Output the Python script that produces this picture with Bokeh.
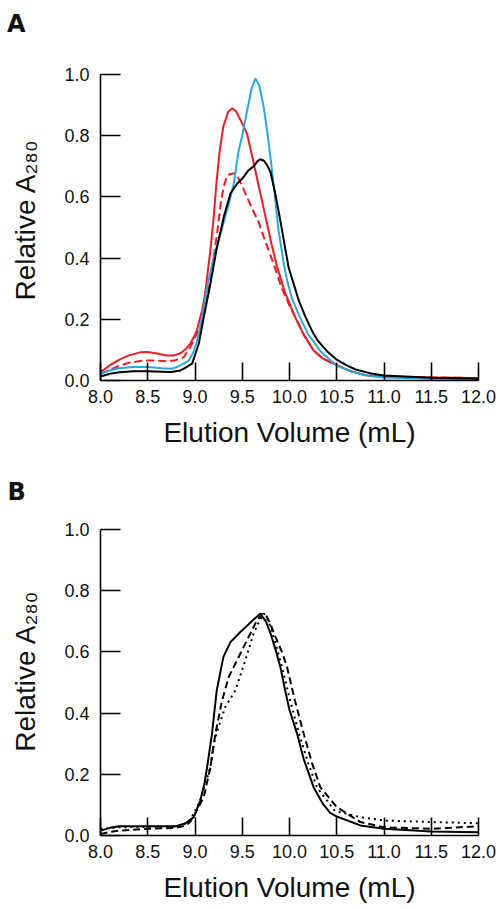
from bokeh.plotting import figure
from bokeh.models import Range1d, FixedTicker, NumeralTickFormatter, Div
from bokeh.layouts import column
from bokeh.embed import file_html
from bokeh.resources import INLINE

# ---------------- data ----------------
x_tick_values = [8.0, 8.5, 9.0, 9.5, 10.0, 10.5, 11.0, 11.5, 12.0]
y_tick_values = [0.0, 0.2, 0.4, 0.6, 0.8, 1.0]
x_title = "Elution Volume (mL)"
y_title = "Relative A\u2082\u2088\u2080"

# Panel A
a_red_vol = [8.0, 8.1, 8.2, 8.3, 8.42, 8.5, 8.6, 8.7, 8.78, 8.85, 8.9, 8.95, 9.0, 9.02, 9.05,
             9.075, 9.1, 9.12, 9.14, 9.163, 9.18, 9.198, 9.226, 9.262, 9.3, 9.35, 9.39, 9.43,
             9.5, 9.55, 9.6, 9.65, 9.7, 9.755, 9.81, 9.87, 9.95, 10.06, 10.15, 10.255, 10.35,
             10.5, 10.65, 10.82, 11.0, 11.5, 12.0]
a_red_val = [0.027, 0.05, 0.068, 0.082, 0.092, 0.093, 0.088, 0.082, 0.082, 0.09, 0.102, 0.12,
             0.15, 0.164, 0.2, 0.229, 0.27, 0.316, 0.37, 0.425, 0.48, 0.534, 0.643, 0.752,
             0.83, 0.877, 0.889, 0.882, 0.84, 0.807, 0.74, 0.67, 0.6, 0.523, 0.445, 0.37,
             0.29, 0.207, 0.15, 0.098, 0.072, 0.05, 0.03, 0.016, 0.012, 0.01, 0.008]

a_red_dash_vol = [8.0, 8.1, 8.2, 8.3, 8.45, 8.6, 8.7, 8.78, 8.88, 8.95, 9.0, 9.057, 9.09, 9.12,
                  9.15, 9.18, 9.234, 9.276, 9.31, 9.34, 9.38, 9.427, 9.47, 9.5, 9.55, 9.6,
                  9.67, 9.75, 9.85, 9.92, 10.0, 10.06, 10.15, 10.255, 10.35, 10.5, 10.65,
                  10.82, 11.0, 11.5, 12.0]
a_red_dash_val = [0.022, 0.035, 0.048, 0.058, 0.065, 0.065, 0.063, 0.065, 0.076, 0.109, 0.14,
                  0.174, 0.21, 0.262, 0.31, 0.37, 0.48, 0.589, 0.64, 0.67, 0.675, 0.678, 0.655,
                  0.635, 0.6, 0.565, 0.52, 0.45, 0.365, 0.3, 0.245, 0.207, 0.15, 0.098, 0.072,
                  0.05, 0.03, 0.016, 0.012, 0.01, 0.008]

a_blue_vol = [8.0, 8.1, 8.2, 8.35, 8.5, 8.65, 8.75, 8.81, 8.88, 8.934, 8.98, 9.015, 9.045,
              9.075, 9.135, 9.216, 9.27, 9.32, 9.36, 9.41, 9.462, 9.5, 9.55, 9.6, 9.639, 9.68,
              9.727, 9.77, 9.81, 9.85, 9.88, 9.91, 9.94, 9.98, 10.03, 10.11, 10.2, 10.33, 10.5,
              10.7, 10.85, 11.0, 11.5, 12.0]
a_blue_val = [0.022, 0.033, 0.04, 0.044, 0.044, 0.04, 0.038, 0.044, 0.055, 0.065, 0.09, 0.12,
              0.16, 0.207, 0.316, 0.425, 0.48, 0.534, 0.58, 0.643, 0.752, 0.80, 0.88, 0.955,
              0.987, 0.965, 0.894, 0.80, 0.70, 0.59, 0.50, 0.44, 0.38, 0.32, 0.265, 0.207,
              0.15, 0.095, 0.048, 0.025, 0.015, 0.01, 0.006, 0.005]

a_black_vol = [8.0, 8.1, 8.2, 8.35, 8.5, 8.65, 8.75, 8.846, 8.9, 8.97, 9.04, 9.093, 9.163,
               9.226, 9.304, 9.375, 9.445, 9.5, 9.53, 9.56, 9.62, 9.66, 9.69, 9.73, 9.77,
               9.8, 9.85, 9.903, 9.95, 9.99, 10.05, 10.1, 10.17, 10.25, 10.3, 10.4, 10.5,
               10.6, 10.7, 10.85, 11.0, 11.5, 12.0]
a_black_val = [0.013, 0.022, 0.027, 0.03, 0.03, 0.029, 0.028, 0.033, 0.042, 0.055, 0.12,
               0.207, 0.316, 0.425, 0.534, 0.611, 0.643, 0.66, 0.672, 0.685, 0.70, 0.716,
               0.723, 0.718, 0.70, 0.68, 0.61, 0.523, 0.44, 0.37, 0.31, 0.26, 0.207, 0.155,
               0.13, 0.095, 0.068, 0.05, 0.036, 0.024, 0.016, 0.009, 0.006]

# Panel B
b_solid_vol = [8.0, 8.1, 8.2, 8.5, 8.8, 8.9, 8.987, 9.057, 9.1, 9.128, 9.18, 9.23, 9.3, 9.375,
               9.48, 9.55, 9.6, 9.69, 9.75, 9.8, 9.85, 9.903, 9.95, 10.0, 10.08, 10.15,
               10.255, 10.35, 10.43, 10.5, 10.75, 11.0, 11.5, 12.0]
b_solid_val = [0.016, 0.025, 0.03, 0.03, 0.03, 0.04, 0.06, 0.115, 0.17, 0.223, 0.333, 0.474,
               0.583, 0.632, 0.665, 0.685, 0.70, 0.725, 0.70, 0.66, 0.61, 0.551, 0.48, 0.41,
               0.333, 0.25, 0.158, 0.105, 0.074, 0.062, 0.033, 0.022, 0.013, 0.011]

b_dash_vol = [8.0, 8.1, 8.2, 8.5, 8.8, 8.9, 8.95, 9.0, 9.05, 9.093, 9.163, 9.216, 9.287, 9.357,
              9.445, 9.586, 9.65, 9.71, 9.76, 9.797, 9.85, 9.92, 9.974, 10.05, 10.15, 10.24,
              10.326, 10.5, 10.75, 11.0, 11.5, 11.8, 12.0]
b_dash_val = [0.005, 0.012, 0.016, 0.022, 0.025, 0.032, 0.045, 0.07, 0.1, 0.125, 0.223, 0.333,
              0.442, 0.518, 0.573, 0.66, 0.70, 0.725, 0.715, 0.692, 0.65, 0.6, 0.551, 0.45,
              0.333, 0.235, 0.158, 0.093, 0.044, 0.027, 0.022, 0.027, 0.03]

b_dot_vol = [8.0, 8.2, 8.5, 8.85, 8.95, 9.05, 9.1, 9.163, 9.198, 9.25, 9.32, 9.427, 9.533, 9.62,
             9.68, 9.73, 9.78, 9.85, 9.92, 10.0, 10.1, 10.2, 10.29, 10.48, 10.75, 11.0, 11.5,
             12.0]
b_dot_val = [0.022, 0.027, 0.028, 0.03, 0.05, 0.11, 0.16, 0.223, 0.30, 0.355, 0.42, 0.474,
             0.573, 0.66, 0.70, 0.725, 0.70, 0.63, 0.551, 0.45, 0.333, 0.235, 0.158, 0.08,
             0.06, 0.049, 0.044, 0.04]

RED = "#ed1c24"
BLUE = "#27aae1"
BLACK = "#000000"
TEXT = "#111111"
FONT = "Liberation Sans"


def make_panel(height, top, bottom, letter, letter_standoff, ylab_pad):
    p = figure(width=502, height=height, output_backend="svg", toolbar_location=None,
               x_range=Range1d(8.0, 12.0), y_range=Range1d(0.0, 1.0),
               min_border_left=100, min_border_right=24, min_border_top=top,
               min_border_bottom=bottom)
    p.outline_line_color = None
    p.xgrid.grid_line_color = None
    p.ygrid.grid_line_color = None
    p.background_fill_color = "white"
    p.border_fill_color = "white"

    if letter:
        p.title.text = letter
        p.title.text_font = "DejaVu Sans"
        p.title.text_font_size = "24px"
        p.title.text_font_style = "bold"
        p.title.text_color = TEXT
        p.title.align = "left"
        p.title.vertical_align = "bottom"
        p.title.offset = -93
        p.title.standoff = letter_standoff

    for ax in (p.xaxis[0], p.yaxis[0]):
        ax.axis_line_width = 1.6
        ax.axis_line_color = BLACK
        ax.major_tick_line_width = 1.6
        ax.major_tick_line_color = BLACK
        ax.minor_tick_line_color = None
        ax.major_tick_out = 0
        ax.major_label_text_font = FONT
        ax.major_label_text_font_size = "18px"
        ax.major_label_text_color = TEXT
        ax.formatter = NumeralTickFormatter(format="0.0")
        ax.axis_label_text_font = FONT
        ax.axis_label_text_font_size = "28px"
        ax.axis_label_text_font_style = "normal"
        ax.axis_label_text_color = TEXT

    p.xaxis.ticker = FixedTicker(ticks=x_tick_values)
    p.yaxis.ticker = FixedTicker(ticks=y_tick_values)
    p.xaxis.major_tick_in = 18
    p.yaxis.major_tick_in = 20
    p.xaxis.major_label_standoff = 9
    p.yaxis.major_label_standoff = 11

    p.xaxis.axis_label = x_title
    p.xaxis.axis_label_standoff = 11
    p.yaxis.axis_label = "\u00a0" * ylab_pad + y_title
    p.yaxis.axis_label_standoff = 20
    return p


head_a = Div(text='<div style="padding:12px 0 0 7px;font-family:\'DejaVu Sans\';'
                  'font-size:24px;font-weight:bold;line-height:24px;color:#111111">A</div>',
             width=502, height=40, margin=0)

pA = make_panel(410, 34, 70, None, 0, 2)
pA.line(a_red_vol, a_red_val, line_color=RED, line_width=2)
pA.line(a_red_dash_vol, a_red_dash_val, line_color=RED, line_width=2, line_dash="8 4")
pA.line(a_blue_vol, a_blue_val, line_color=BLUE, line_width=2)
pA.line(a_black_vol, a_black_val, line_color=BLACK, line_width=2)

pB = make_panel(459, 79, 74, "B", 48, 3)
pB.line(b_solid_vol, b_solid_val, line_color=BLACK, line_width=2)
pB.line(b_dash_vol, b_dash_val, line_color=BLACK, line_width=2, line_dash="7 4")
pB.line(b_dot_vol, b_dot_val, line_color=BLACK, line_width=2, line_dash="2 4")

layout = column(head_a, pA, pB, spacing=0)
open("out.html", "w").write(file_html(layout, INLINE))
